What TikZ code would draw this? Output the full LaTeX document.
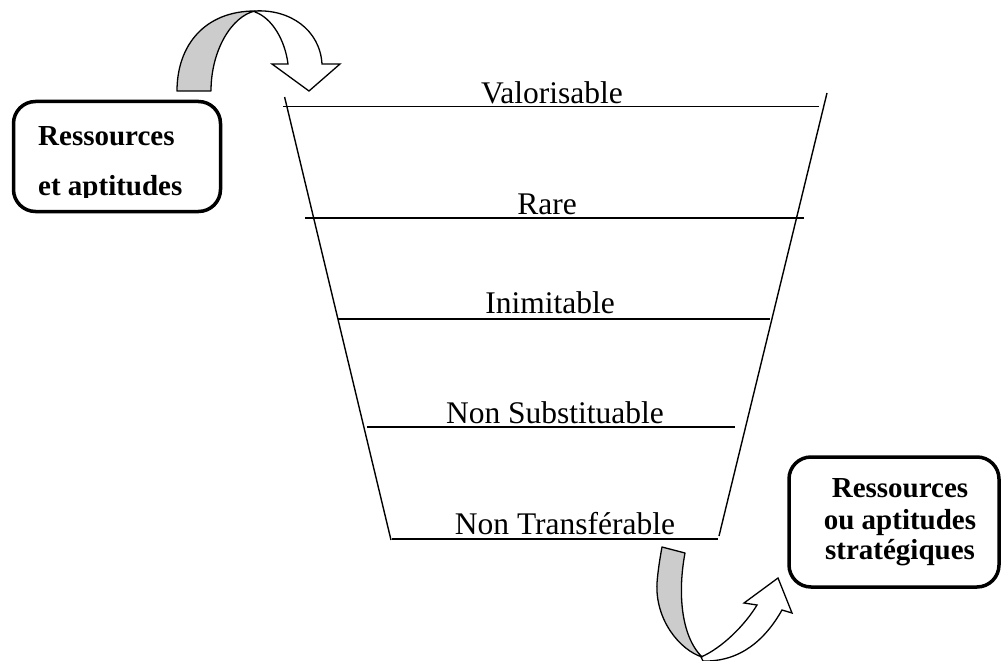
\documentclass[tikz,border=0pt]{standalone}
\usepackage{fontspec}
\setmainfont{Liberation Serif}
\begin{document}
\begin{tikzpicture}[x=1pt,y=-1pt,
  level/.style={font=\fontsize{31.5}{36}\selectfont, anchor=base, inner sep=0pt},
  rule/.style={line width=1.4pt},
  side/.style={line width=1.4pt},
  boxtext/.style={font=\fontsize{29}{33}\selectfont\bfseries, inner sep=0pt},
  roundbox/.style={draw, line width=3.5pt, rounded corners=22pt, inner sep=0pt},
  band/.style={draw, line width=1.3pt, line join=round, fill=black!20},
  arrowbody/.style={draw, line width=1.3pt, line join=miter, fill=white}]
\useasboundingbox (0,0) rectangle (1002,661);

% funnel sides
\coordinate (tl) at (284.6,97);
\coordinate (bl) at (391,540);
\coordinate (tr) at (827,93);
\coordinate (br) at (719,536);
\draw[side] (tl) -- (bl);
\draw[side] (tr) -- (br);

% levels of the funnel
\node[level] (valo) at (552,103.5) {Valorisable};
\draw[rule] (283,106.5) coordinate (valoL) -- (819,106.5) coordinate (valoR);

\node[level] (rare) at (547,214) {Rare};
\draw[rule] (305,218) coordinate (rareL) -- (804,218) coordinate (rareR);

\node[level] (inim) at (550,313) {Inimitable};
\draw[rule] (338,319) coordinate (inimL) -- (770,319) coordinate (inimR);

\node[level] (subst) at (555,423) {Non Substituable};
\draw[rule] (367,427) coordinate (substL) -- (735,427) coordinate (substR);

\node[level] (transf) at (565,534) {Non Transférable};
\draw[rule] (392,539) coordinate (transfL) -- (718,539) coordinate (transfR);

% input box (its second line is cut off at the bottom)
\node[roundbox, minimum width=207pt, minimum height=110pt] (input) at (117,156.5) {};
\begin{scope}
  \clip (0,0) rectangle (1002,197.5);
  \node[boxtext, anchor=base west] (inputA) at (38,145) {Ressources};
  \node[boxtext, anchor=base west] (inputB) at (38,195) {et aptitudes};
\end{scope}

% output box
\node[roundbox, minimum width=210pt, minimum height=130pt] (output) at (894,522) {};
\node[boxtext, anchor=base] (outA) at (900,497) {Ressources};
\node[boxtext, anchor=base] (outB) at (900,529) {ou aptitudes};
\node[boxtext, anchor=base] (outC) at (900,559) {stratégiques};

% curved arrow into the funnel
\draw[band] (177,91) .. controls (177,45) and (205,11) .. (255,11)
  .. controls (232,16) and (211,50) .. (211,91) -- cycle;
\draw[arrowbody] (255,11) .. controls (290,9) and (320,30) .. (322,64)
  -- (340,64) -- (309,91) -- (272,64) -- (288,64)
  .. controls (285,40) and (272,18) .. (255,12) -- cycle;

% curved arrow out of the funnel
\draw[arrowbody] (701,657) .. controls (722,648) and (745,625) .. (757,605)
  -- (744,603) -- (778,578) -- (792,613) -- (782,610)
  .. controls (765,640) and (740,662) .. (703,661) -- cycle;
\draw[band] (662,547) -- (685,553)
  .. controls (678,590) and (680,635) .. (702,657)
  .. controls (680,650) and (655,620) .. (657,583)
  .. controls (658,570) and (660,558) .. (662,547) -- cycle;
\end{tikzpicture}
\end{document}
